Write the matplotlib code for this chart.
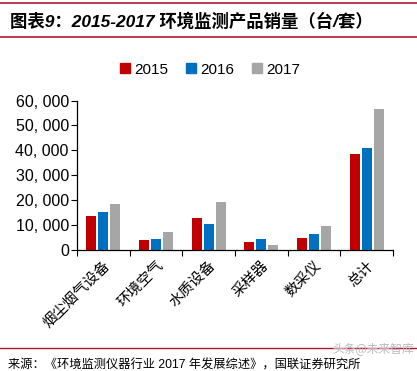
import matplotlib.pyplot as plt
import numpy as np
from matplotlib.lines import Line2D
from matplotlib.ticker import FuncFormatter

plt.rcParams['font.family'] = ['Noto Sans CJK SC', 'DejaVu Sans']
latin = ['Liberation Sans', 'Noto Sans CJK SC']

categories = ["烟尘烟气设备", "环境空气", "水质设备", "采样器", "数采仪", "总计"]
years = ["2015", "2016", "2017"]
sales_2015 = [13600, 3900, 13000, 3200, 5000, 38600]
sales_2016 = [15100, 4600, 10400, 4600, 6300, 40900]
sales_2017 = [18500, 7100, 19300, 2100, 9600, 56600]
colors = ["#C00000", "#0070C0", "#A6A6A6"]

fig = plt.figure(figsize=(4.17, 3.71), dpi=100)
ax = fig.add_axes([0.185, 0.326, 0.757, 0.403])

x = np.arange(len(categories))
width = 0.19
step = 0.228
for i, (vals, c) in enumerate(zip([sales_2015, sales_2016, sales_2017], colors)):
    ax.bar(x + (i - 1) * step, vals, width, color=c, label=years[i])

ax.set_xlim(-0.5, len(categories) - 0.5)
ax.set_ylim(0, 60000)
ax.set_yticks(range(0, 60001, 10000))
ax.yaxis.set_major_formatter(FuncFormatter(lambda v, p: f"{int(v):,}".replace(",", ", ")))
ax.tick_params(axis='y', labelsize=11.5, length=4, width=0.8, direction='out', pad=2)
for t in ax.get_yticklabels():
    t.set_family(latin)

# category boundary ticks on the x axis
ax.set_xticks(np.arange(-0.5, len(categories), 1.0))
ax.set_xticklabels([])
ax.tick_params(axis='x', which='major', length=4, width=0.8, direction='out')
ax.set_xticks(x, minor=True)
ax.set_xticklabels(categories, minor=True, rotation=45, ha='right', va='top',
                   rotation_mode='anchor', fontsize=10.5)
ax.tick_params(axis='x', which='minor', length=0, pad=6)

ax.spines['top'].set_visible(False)
ax.spines['right'].set_visible(False)
for s in ['left', 'bottom']:
    ax.spines[s].set_linewidth(0.9)

handles = [Line2D([], [], marker='s', linestyle='none', markersize=7,
                  markerfacecolor=c, markeredgecolor=c) for c in colors]
fig.legend(handles, years, loc='center', bbox_to_anchor=(0.5, 0.812), ncol=3,
           frameon=False, prop={'family': latin, 'size': 11},
           handletextpad=0.1, columnspacing=1.0, handlelength=1.0)

# header / footer decorations
fig.add_artist(Line2D([0, 1], [1 - 3 / 371, 1 - 3 / 371], color="#B0182F", lw=1.2))
fig.add_artist(Line2D([0, 1], [1 - 37 / 371, 1 - 37 / 371], color="#B0182F", lw=1.2))
fig.text(10 / 417, 1 - 21 / 371, "图表9：2015-2017 环境监测产品销量（台/套）",
         fontsize=12.5, fontweight='bold', fontstyle='italic', va='center', ha='left',
         family=latin)
fig.add_artist(Line2D([0, 1], [1 - 348 / 371, 1 - 348 / 371], color="#B0182F", lw=1.0))
fig.text(8 / 417, 1 - 365 / 371, "来源：《环境监测仪器行业 2017 年发展综述》，国联证券研究所",
         fontsize=8.8, va='center', ha='left', family=latin)
fig.text(332 / 417, 1 - 350 / 371, "头条@未来智库", fontsize=8.5, color="#BBBBBB",
         va='center', ha='left')

fig.savefig("out.png", dpi=100)
